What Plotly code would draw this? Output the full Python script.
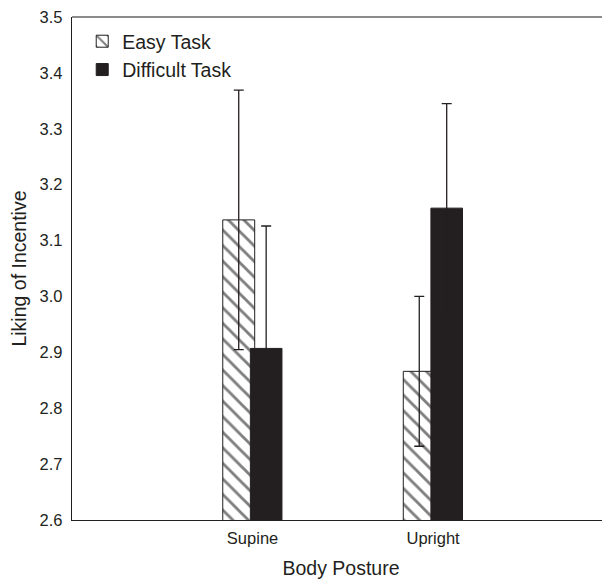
import plotly.graph_objects as go

categories = ["Supine", "Upright"]
easy_values = [3.137, 2.866]
easy_errors = [0.232, 0.134]
difficult_values = [2.907, 3.158]
difficult_errors = [0.219, 0.187]
y_ticks = [2.6, 2.7, 2.8, 2.9, 3.0, 3.1, 3.2, 3.3, 3.4, 3.5]
y_tick_labels = ["2.6", "2.7", "2.8", "2.9", "3.0", "3.1", "3.2", "3.3", "3.4", "3.5"]

ink = "#231f20"
font = "Liberation Sans, Arial, Helvetica, sans-serif"

fig = go.Figure()
fig.add_trace(go.Bar(
    name="Easy Task", x=categories, y=easy_values,
    offset=-0.165, width=0.177,
    marker=dict(color="white", line=dict(color=ink, width=1),
                pattern=dict(shape="\\", fgcolor="#000000", bgcolor="white", size=11, solidity=0.26)),
    error_y=dict(type="data", array=easy_errors, visible=True, color=ink, thickness=1.3, width=5),
))
fig.add_trace(go.Bar(
    name="Difficult Task", x=categories, y=difficult_values,
    offset=-0.012, width=0.175,
    marker=dict(color=ink, line=dict(color=ink, width=1)),
    error_y=dict(type="data", array=difficult_errors, visible=True, color=ink, thickness=1.3, width=5),
))

fig.update_layout(
    width=602, height=571,
    margin=dict(l=64, r=0, t=7, b=59),
    paper_bgcolor="white", plot_bgcolor="white",
    barmode="overlay",
    font=dict(family=font, color=ink, size=16.5),
    showlegend=True,
    legend=dict(x=0.019, y=0.99, xanchor="left", yanchor="top",
                bgcolor="rgba(0,0,0,0)", font=dict(size=19.5, color=ink),
                itemwidth=30),
    xaxis=dict(range=[-1.0, 1.98], showline=True, linecolor=ink, linewidth=1.3,
               ticks="outside", ticklen=3, tickcolor="rgba(0,0,0,0)",
               showgrid=False, zeroline=False,
               tickfont=dict(size=16.5),
               title=dict(text="Body Posture", font=dict(size=19.5), standoff=15)),
    yaxis=dict(range=[2.6, 3.5], tickvals=y_ticks, ticktext=y_tick_labels,
               showline=True, linecolor=ink, linewidth=1.3,
               ticks="outside", ticklen=5, tickcolor="rgba(0,0,0,0)",
               ticklabeloverflow="allow",
               showgrid=False, zeroline=False,
               tickfont=dict(size=16.5),
               title=dict(text="Liking of Incentive", font=dict(size=19.5), standoff=7)),
    shapes=[dict(type="line", xref="paper", yref="paper", x0=0, x1=1, y0=1, y1=1,
                 line=dict(color="#666666", width=1.5))],
)

fig.write_html("out.html")
